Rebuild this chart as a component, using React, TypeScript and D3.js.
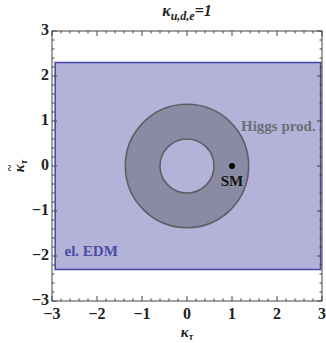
import React from 'react';
import * as d3 from 'd3';

// axis ranges and tick values
const xDomain = [-3, 3];
const yDomain = [-3, 3];
const majorTicks = [-3, -2, -1, 0, 1, 2, 3];

// el. EDM allowed box (kappa_tau, tilde kappa_tau)
const edmX = [-2.93, 2.97];
const edmY = [-2.3, 2.3];

// Higgs production annulus, radii in kappa units
const higgsRadii = [0.6, 1.37];

// Standard model point
const smPoint = [1, 0];

const W = 326;
const H = 343;
const margin = { left: 52, right: 4, top: 31, bottom: 42 };

export default function App() {
  const x = d3.scaleLinear().domain(xDomain).range([margin.left, W - margin.right]);
  const y = d3.scaleLinear().domain(yDomain).range([H - margin.bottom, margin.top]);

  // minor ticks every 0.2
  const minorTicks = d3.range(-3, 3.0001, 0.2).map((v) => +v.toFixed(2));

  const cx = x(0);
  const cy = y(0);
  const rOuter = x(higgsRadii[1]) - x(0);
  const rInner = x(higgsRadii[0]) - x(0);
  const ringPath =
    `M ${cx - rOuter} ${cy} a ${rOuter} ${rOuter} 0 1 0 ${2 * rOuter} 0 a ${rOuter} ${rOuter} 0 1 0 ${-2 * rOuter} 0 Z ` +
    `M ${cx - rInner} ${cy} a ${rInner} ${rInner} 0 1 1 ${2 * rInner} 0 a ${rInner} ${rInner} 0 1 1 ${-2 * rInner} 0 Z`;

  const x0 = x(xDomain[0]);
  const x1 = x(xDomain[1]);
  const y0 = y(yDomain[0]);
  const y1 = y(yDomain[1]);
  const font = "'Liberation Serif', 'Times New Roman', serif";
  const fmt = (v: number) => (v < 0 ? '\u2212' + Math.abs(v) : String(v));

  return (
    <svg width={W} height={H} style={{ position: 'absolute', left: 0, top: 0, fontFamily: font }}>
      <rect x={0} y={0} width={W} height={H} fill="#fff" />

      {/* el. EDM region */}
      <rect
        x={x(edmX[0])}
        y={y(edmY[1])}
        width={x(edmX[1]) - x(edmX[0])}
        height={y(edmY[0]) - y(edmY[1])}
        fill="#b3b3d9"
        stroke="#4b4ba3"
        strokeWidth={1.6}
      />

      {/* Higgs production annulus */}
      <path d={ringPath} fill="#8b8aa4" fillRule="evenodd" stroke="#5e5e66" strokeWidth={1.6} />

      {/* SM point */}
      <circle cx={x(smPoint[0])} cy={y(smPoint[1])} r={3} fill="#000" />
      <text x={x(smPoint[0])} y={y(smPoint[1]) + 20} textAnchor="middle" fontSize={15} fontWeight="bold" fill="#111">
        SM
      </text>

      <text x={x(2.03)} y={y(0.78)} textAnchor="middle" fontSize={15} fontWeight="bold" fill="#6e6e74">
        Higgs prod.
      </text>
      <text x={x(-2.13)} y={y(-2.0)} textAnchor="middle" fontSize={15} fontWeight="bold" fill="#4b4ba3">
        el. EDM
      </text>

      {/* frame */}
      <rect x={x0} y={y1} width={x1 - x0} height={y0 - y1} fill="none" stroke="#444" strokeWidth={1} />

      {/* ticks on all sides, inward */}
      {minorTicks.map((v) => {
        const major = majorTicks.some((m) => Math.abs(m - v) < 1e-6);
        const len = major ? 5 : 2.5;
        return (
          <g key={v} stroke="#444" strokeWidth={1}>
            <line x1={x(v)} x2={x(v)} y1={y0} y2={y0 - len} />
            <line x1={x(v)} x2={x(v)} y1={y1} y2={y1 + len} />
            <line x1={x0} x2={x0 + len} y1={y(v)} y2={y(v)} />
            <line x1={x1} x2={x1 - len} y1={y(v)} y2={y(v)} />
          </g>
        );
      })}

      {/* tick labels */}
      {majorTicks.map((v) => (
        <g key={v} fontSize={16} fontWeight="bold" fill="#222">
          <text x={x(v)} y={y0 + 18} textAnchor="middle">{fmt(v)}</text>
          <text x={x0 - 3} y={y(v) + 4} textAnchor="end">{fmt(v)}</text>
        </g>
      ))}

      {/* title */}
      <text x={x(0)} y={16} textAnchor="middle" fontSize={16} fontWeight="bold" fontStyle="italic" fill="#222">
        κ<tspan fontSize={12} dy={4}>u,d,e</tspan>
        <tspan dy={-4}>=1</tspan>
      </text>

      {/* axis labels */}
      <text x={x(0)} y={H - 6} textAnchor="middle" fontSize={15} fontWeight="bold" fontStyle="italic" fill="#222">
        κ<tspan fontSize={10} dy={3}>τ</tspan>
      </text>
      <g transform={`translate(24, ${y(0)}) rotate(-90)`} fill="#222" fontWeight="bold" fontStyle="italic">
        <text x={-2} y={-10} textAnchor="middle" fontSize={12}>~</text>
        <text x={0} y={0} textAnchor="middle" fontSize={15}>
          κ<tspan fontSize={10} dy={3}>τ</tspan>
        </text>
      </g>
    </svg>
  );
}
